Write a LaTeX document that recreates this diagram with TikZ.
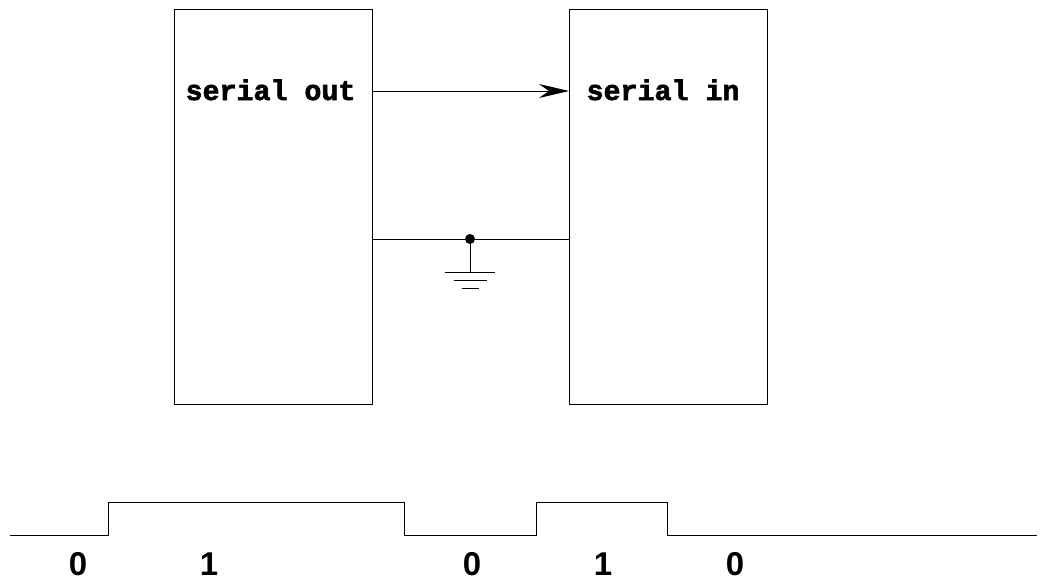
\documentclass[tikz,border=0pt]{standalone}
\usepackage{fontspec}
\setmainfont{Liberation Sans}
\newfontfamily\monob{Liberation Mono Bold}[FakeBold=2.2]
\usetikzlibrary{arrows.meta}
\tikzset{
  x=1pt,y=-1pt,
  wire/.style={line width=1pt,black},
  mono/.style={font=\monob\fontsize{28.3}{28}\selectfont,inner sep=0pt,anchor=base},
  bit/.style={font=\bfseries\fontsize{33}{33}\selectfont,inner sep=0pt,anchor=base},
  dotn/.style={circle,fill=black,minimum size=10pt,inner sep=0pt},
}
\begin{document}
\begin{tikzpicture}
\useasboundingbox (0,0) rectangle (1050,579);
\coordinate (a1) at (174,9); \coordinate (a2) at (372,404);
\coordinate (b1) at (569,9); \coordinate (b2) at (767,404);
\draw[wire] (a1) rectangle (a2);
\draw[wire] (b1) rectangle (b2);
\node[mono] (so) at (270.5,100) {serial out};
\node[mono] (si) at (663,100) {serial in};
\coordinate (s1) at (372,91); \coordinate (s2) at (569,91);
\draw[wire,-{Stealth[length=30pt,width=14pt,inset=10pt]}] (s1) -- (s2);
\coordinate (g1) at (372,239); \coordinate (g2) at (569,239);
\draw[wire] (g1) -- (g2);
\node[dotn] (j) at (470,239) {};
\coordinate (gt) at (470,272);
\draw[wire] (j) -- (gt);
\coordinate (l1a) at (445,272); \coordinate (l1b) at (495,272);
\coordinate (l2a) at (453.5,280); \coordinate (l2b) at (487,280);
\coordinate (l3a) at (462,288); \coordinate (l3b) at (479,288);
\draw[wire] (l1a) -- (l1b);
\draw[wire] (l2a) -- (l2b);
\draw[wire] (l3a) -- (l3b);
\coordinate (p0) at (10,535);
\draw[wire,line join=miter] (p0) -- (108,535) -- (108,502) -- (404,502) -- (404,535) -- (536,535) -- (536,502) -- (667,502) -- (667,535) -- (1037,535);
\node[bit] (b0) at (78,575.5) {0};
\node[bit] (b1t) at (209,575.5) {1};
\node[bit] (b2t) at (472,575.5) {0};
\node[bit] (b3t) at (603,575.5) {1};
\node[bit] (b4t) at (735,575.5) {0};
\end{tikzpicture}
\end{document}
